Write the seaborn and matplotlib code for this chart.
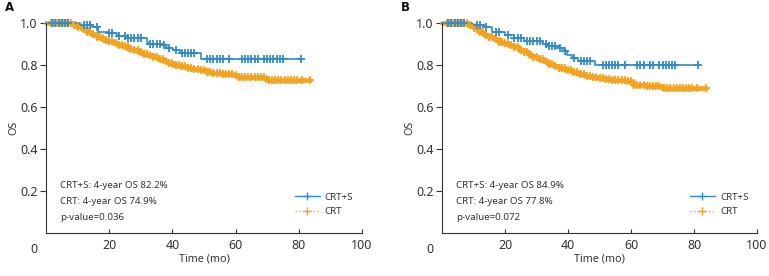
import numpy as np
import pandas as pd
import matplotlib
matplotlib.use("Agg")
import matplotlib.pyplot as plt
import seaborn as sns
from matplotlib.lines import Line2D

BLUE = "#2f8ccb"
ORANGE = "#f5a31f"

# ---- panel A: step times / survival levels ----
a_s_time = [0, 8, 10.8, 14.5, 16.6, 19.8, 22.4, 25.5, 31.9, 32.4, 37, 38, 40.3, 42.4, 49.2, 80.8]
a_s_surv = [1.0, 1.0, 0.989, 0.978, 0.957, 0.95, 0.937, 0.926, 0.91, 0.90, 0.894, 0.879, 0.87, 0.855, 0.827, 0.827]
a_s_cens = [2, 3, 4, 5, 6, 7, 12, 13, 14, 16, 20, 21, 23, 25, 26, 27, 28, 29, 30, 33, 34, 35, 36, 37.5, 39,
            41, 43, 44, 45, 46, 47, 51, 52, 53, 54, 55, 56, 58, 62, 63, 64, 65, 66, 67, 69, 70, 71, 72,
            73, 74, 75, 80.8]

a_c_time = [0, 8, 9, 9.8, 11.3, 12.9, 14.4, 16, 17.1, 18.2, 19.7, 21.3, 22.9, 24.5, 26.1, 27.7, 29.2,
            30.8, 32.4, 34, 35.5, 37.1, 38.7, 40.3, 42.4, 44.5, 46.6, 48.7, 50.8, 52.9, 56, 59.2, 60.8,
            65, 69.7, 83.4]
a_c_surv = [1.0, 1.0, 0.99, 0.98, 0.968, 0.957, 0.945, 0.934, 0.926, 0.918, 0.912, 0.905, 0.896,
            0.887, 0.877, 0.868, 0.86, 0.852, 0.844, 0.836, 0.826, 0.816, 0.808, 0.80, 0.792, 0.784,
            0.778, 0.773, 0.766, 0.76, 0.757, 0.753, 0.742, 0.740, 0.729, 0.729]
a_c_cens = [1.5, 2.2, 2.9, 3.6, 4.3, 5, 5.7, 6.4, 7.1, 7.8, 9, 10, 11, 12, 13, 14, 15, 16, 17, 18,
            19, 20, 21, 22, 23, 24, 25, 26, 27, 28, 29, 30, 31, 32, 33, 34, 35, 36, 37, 38, 39, 40,
            41, 42, 43, 44, 45, 46, 47, 48, 49, 50, 51, 52, 53, 54, 55, 56, 57, 58, 59, 60, 61, 62,
            63, 64, 65, 66, 67, 68, 69, 70.5, 71.5, 72.5, 73.5, 74.5, 75.5, 76.5, 77.5, 78.5, 79.5,
            81, 83.4]

# ---- panel B ----
b_s_time = [0, 7.9, 9.5, 13.7, 15.8, 20.1, 22.7, 25.9, 31.2, 32.2, 33.8, 37, 38.5, 39.6, 41.2, 43.3,
            48.6, 81.3]
b_s_surv = [1.0, 1.0, 0.989, 0.98, 0.957, 0.942, 0.926, 0.915, 0.906, 0.898, 0.887, 0.879, 0.863,
            0.847, 0.831, 0.819, 0.80, 0.80]
b_s_cens = [2, 3, 4, 5, 6, 7, 11, 12, 14, 17, 18, 21, 23, 24, 25, 27, 28, 29, 30, 31, 33, 34, 35, 36,
            37.5, 39, 42, 44, 45, 46, 47, 51, 52, 53, 54, 55, 56, 58, 62, 63, 64, 66, 67, 69, 70, 71,
            72, 73, 74, 81.3]

b_c_time = [0, 8.4, 10, 11.6, 13.2, 14.8, 16.4, 18, 19.5, 21.1, 22.7, 24.3, 25.9, 27.5, 29, 30.6,
            32.2, 33.8, 35.4, 37, 39.1, 41.2, 43.3, 45.4, 47.5, 49.6, 51.7, 53.9, 56, 58.1, 60.7, 65,
            69.7, 83.9]
b_c_surv = [1.0, 0.99, 0.974, 0.957, 0.943, 0.93, 0.92, 0.91, 0.902, 0.894, 0.882, 0.87, 0.858,
            0.847, 0.837, 0.827, 0.816, 0.805, 0.794, 0.784, 0.774, 0.765, 0.756, 0.748, 0.742, 0.737,
            0.733, 0.729, 0.726, 0.724, 0.705, 0.70, 0.69, 0.69]
b_c_cens = a_c_cens[:-1] + [83.9]

panels = [
    ("A", (a_s_time, a_s_surv, a_s_cens), (a_c_time, a_c_surv, a_c_cens),
     ["CRT+S: 4-year OS 82.2%", "CRT: 4-year OS 74.9%", "p-value=0.036"]),
    ("B", (b_s_time, b_s_surv, b_s_cens), (b_c_time, b_c_surv, b_c_cens),
     ["CRT+S: 4-year OS 84.9%", "CRT: 4-year OS 77.8%", "p-value=0.072"]),
]

sns.set_style("white")
plt.rcParams["font.family"] = ["Noto Sans", "DejaVu Sans"]
TXT = "#333333"

fig = plt.figure(figsize=(7.69, 2.76), dpi=100)
axes = [fig.add_axes([0.0598, 0.156, 0.4109, 0.762]),
        fig.add_axes([0.5748, 0.156, 0.4096, 0.762])]


def step_at(times, surv, t):
    idx = np.searchsorted(times, t, side="right") - 1
    return np.asarray(surv)[idx]


for ax, (letter, s, c, notes) in zip(axes, panels):
    for (tm, sv, cens), col, lw, ms in [(c, ORANGE, 3.4, 30), (s, BLUE, 1.2, 34)]:
        sns.lineplot(x=tm, y=sv, ax=ax, color=col, lw=lw, drawstyle="steps-post",
                     estimator=None, sort=False, clip_on=False)
        cdf = pd.DataFrame({"t": cens, "s": step_at(tm, sv, cens)})
        sns.scatterplot(data=cdf, x="t", y="s", ax=ax, marker="+", color=col, s=ms,
                        linewidth=1.3, clip_on=False, zorder=3)

    ax.set_xlim(0, 100)
    ax.set_ylim(0, 1.0)
    ax.set_xticks([20, 40, 60, 80, 100])
    ax.set_yticks([0.2, 0.4, 0.6, 0.8, 1.0])
    ax.set_yticklabels(["0.2", "0.4", "0.6", "0.8", "1.0"])
    ax.tick_params(axis="y", direction="out", length=4, width=0.8, color=TXT,
                   labelsize=9, labelcolor=TXT, pad=2)
    ax.tick_params(axis="x", direction="in", length=3, width=0.8, color=TXT,
                   labelsize=9, labelcolor=TXT, pad=4.5)
    ax.tick_params(left=True, bottom=True)
    for side in ["top", "right"]:
        ax.spines[side].set_visible(False)
    for side in ["left", "bottom"]:
        ax.spines[side].set_color(TXT)
        ax.spines[side].set_linewidth(0.8)
    ax.set_xlabel("Time (mo)", fontsize=7.8, color=TXT, labelpad=1)
    ax.set_ylabel("OS", fontsize=7.8, color=TXT)
    ax.yaxis.set_label_coords(-0.085, 0.5)
    ax.text(-0.038, -0.08, "0", transform=ax.transAxes, fontsize=9, color=TXT,
            ha="center", va="center")
    ax.text(-0.13, 1.07, letter, transform=ax.transAxes, fontsize=8.5,
            fontweight="bold", family="DejaVu Sans", color="#111111",
            ha="left", va="center")
    for i, note in enumerate(notes):
        ax.text(0.045, 0.225 - i * 0.075, note, transform=ax.transAxes, fontsize=7,
                color=TXT, ha="left", va="center")

    handles = [Line2D([], [], color=BLUE, lw=1.0, marker="+", markersize=5.5),
               Line2D([], [], color=ORANGE, lw=1.0, ls=":", marker="+", markersize=5.5)]
    ax.legend(handles, ["CRT+S", "CRT"], loc="lower right", bbox_to_anchor=(0.985, 0.06),
              frameon=False, fontsize=7, labelcolor=TXT, handlelength=2.6,
              handletextpad=0.5, borderaxespad=0, labelspacing=0.6)

fig.savefig("out.png", dpi=100)
